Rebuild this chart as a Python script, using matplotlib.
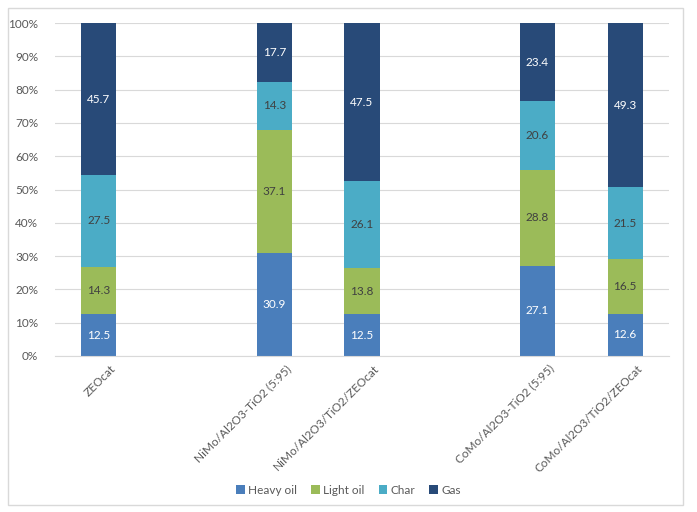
import numpy as np
import matplotlib.pyplot as plt
import matplotlib.transforms as mtransforms
from matplotlib.patches import Rectangle

plt.rcParams['font.family'] = ['Lato', 'DejaVu Sans']

# categories (empty strings are the gaps between groups)
categories = ["ZEOcat", "", "NiMo/Al2O3-TiO2 (5:95)", "NiMo/Al2O3/TiO2/ZEOcat",
              "", "CoMo/Al2O3-TiO2 (5:95)", "CoMo/Al2O3/TiO2/ZEOcat"]
heavy_oil = [12.5, 0, 30.9, 12.5, 0, 27.1, 12.6]
light_oil = [14.3, 0, 37.1, 13.8, 0, 28.8, 16.5]
char = [27.5, 0, 14.3, 26.1, 0, 20.6, 21.5]
gas = [45.7, 0, 17.7, 47.5, 0, 23.4, 49.3]

series = [("Heavy oil", heavy_oil, "#4a7ebb", "white"),
          ("Light oil", light_oil, "#9bbb59", "#404040"),
          ("Char", char, "#4bacc6", "#404040"),
          ("Gas", gas, "#284a78", "white")]

fig = plt.figure(figsize=(6.97, 5.12), dpi=100)
ax = fig.add_axes([55 / 697, 1 - 356 / 512, 614 / 697, 333 / 512])

x = np.arange(len(categories))
totals = np.array(heavy_oil) + np.array(light_oil) + np.array(char) + np.array(gas)
totals[totals == 0] = 1
bottom = np.zeros(len(categories))
for name, vals, color, tcolor in series:
    vals = np.array(vals, dtype=float)
    pct = vals / totals * 100
    ax.bar(x, pct, 0.4, bottom=bottom, color=color, label=name, zorder=2)
    for xi, v, p, b in zip(x, vals, pct, bottom):
        if v > 0:
            ax.text(xi, b + p / 2, f"{v:.1f}", ha="center", va="center",
                    color=tcolor, fontsize=8.5)
    bottom += pct

ax.set_xlim(-0.5, len(categories) - 0.5)
ax.set_ylim(0, 100)
ax.set_yticks(np.arange(0, 101, 10))
ax.set_yticklabels([f"{v}%" for v in range(0, 101, 10)])
ax.yaxis.grid(True, color="#d9d9d9", linewidth=0.8, zorder=0)
ax.set_axisbelow(True)
ax.set_xticks(x)
ax.set_xticklabels(categories, rotation=45, ha="right", rotation_mode="anchor")
ax.tick_params(axis="both", length=0, colors="#595959", labelsize=8.5)
ax.tick_params(axis="y", pad=12)
ax.tick_params(axis="x", pad=5)
offset = mtransforms.ScaledTranslation(8 / 72, 0, fig.dpi_scale_trans)
for lbl in ax.get_xticklabels():
    lbl.set_transform(lbl.get_transform() + offset)
for s in ["top", "right", "left"]:
    ax.spines[s].set_visible(False)
ax.spines["bottom"].set_color("#d9d9d9")

handles, labels = ax.get_legend_handles_labels()
fig.legend(handles, labels, loc="center", bbox_to_anchor=(0.5, 1 - 490 / 512),
           ncol=4, frameon=False, fontsize=8.5, handlelength=0.7, handleheight=0.7,
           handletextpad=0.3, columnspacing=1.2, labelcolor="#595959")

fig.patches.append(Rectangle((8 / 697, 1 - 505 / 512), 675 / 697, 497 / 512,
                             transform=fig.transFigure, fill=False,
                             edgecolor="#d9d9d9", linewidth=1))

fig.savefig("out.png", dpi=100)
